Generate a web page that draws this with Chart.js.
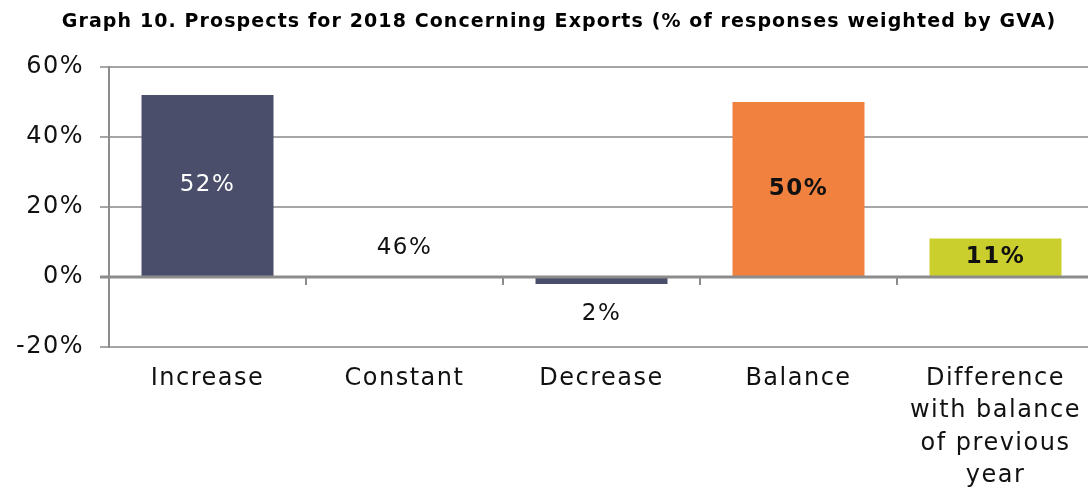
<!DOCTYPE html>
<html>
<head>
<meta charset="utf-8">
<script src="https://cdn.jsdelivr.net/npm/chart.js@4.4.1/dist/chart.umd.min.js"></script>
<style>
  html, body { margin: 0; padding: 0; background: #ffffff; overflow: hidden; }
  #wrap { position: relative; width: 1094px; height: 488px; }
</style>
</head>
<body>
<div id="wrap"><canvas id="exportsChart" width="1094" height="488"></canvas></div>
<script>
// ================= DATA =================
const categories = [
    "Increase",
    "Constant",
    "Decrease",
    "Balance",
    ["Difference", "with balance", "of previous", "year"]
];
const values = [52, 46, -2, 50, 11];
const barColors = ["#4a4e6a", "rgba(0,0,0,0)", "#4a4e6a", "#f0813e", "#cbcf2d"];
const yTicks = [-20, 0, 20, 40, 60];
const titleText = "Graph 10. Prospects for 2018 Concerning Exports (% of responses weighted by GVA)";

const FONT = "'DejaVu Sans', sans-serif";
const TEXT = "#111111";
const SPACING = "1.5px";

// wide-ish lettering like the report's typeface
const spacing = {
    id: "spacing",
    beforeLayout(chart) { chart.ctx.letterSpacing = SPACING; },
    beforeDraw(chart) { chart.ctx.letterSpacing = SPACING; }
};

// title drawn by hand so the plot area can start exactly where it should
const titleDraw = {
    id: "titleDraw",
    afterDraw(chart) {
        const ctx = chart.ctx;
        ctx.save();
        ctx.letterSpacing = "1.1px";
        ctx.fillStyle = "#000000";
        ctx.font = "bold 19px " + FONT;
        ctx.textAlign = "center";
        ctx.textBaseline = "middle";
        ctx.fillText(titleText, 559, 22);
        ctx.restore();
    }
};

// value labels, placed the way the original report does it
const valueLabels = {
    id: "valueLabels",
    afterDatasetsDraw(chart) {
        const ctx = chart.ctx;
        const meta = chart.getDatasetMeta(0);
        const zero = chart.scales.y.getPixelForValue(0);
        ctx.save();
        ctx.letterSpacing = SPACING;
        ctx.textAlign = "center";
        ctx.textBaseline = "middle";
        meta.data.forEach((bar, i) => {
            const txt = Math.abs(values[i]) + "%";
            let ty = (bar.y + bar.base) / 2;
            let color = TEXT;
            let weight = "normal";
            if (i === 0) color = "#ffffff";
            if (i === 1) ty = zero - 29;
            if (i === 2) ty = bar.y + 30;
            if (i >= 3) weight = "bold";
            ctx.fillStyle = color;
            ctx.font = weight + " 23px " + FONT;
            ctx.fillText(txt, bar.x, ty);
        });
        ctx.restore();
    }
};

// zero line with small category ticks hanging below it
const zeroAxis = {
    id: "zeroAxis",
    afterDatasetsDraw(chart) {
        const ctx = chart.ctx;
        const x = chart.scales.x;
        const zero = chart.scales.y.getPixelForValue(0);
        const step = x.getPixelForValue(1) - x.getPixelForValue(0);
        ctx.save();
        ctx.strokeStyle = "#8c8c8c";
        ctx.lineWidth = 3;
        ctx.beginPath();
        ctx.moveTo(chart.chartArea.left - 9, zero);
        ctx.lineTo(chart.chartArea.right, zero);
        ctx.stroke();
        ctx.lineWidth = 2;
        for (let i = 1; i < categories.length; i++) {
            const bx = Math.round(x.getPixelForValue(i) - step / 2);
            ctx.beginPath();
            ctx.moveTo(bx, zero);
            ctx.lineTo(bx, zero + 8);
            ctx.stroke();
        }
        ctx.restore();
    }
};

new Chart(document.getElementById("exportsChart"), {
    type: "bar",

    data: {
        labels: categories,

        datasets: [{
            data: values,
            backgroundColor: barColors,
            borderWidth: 0,
            barPercentage: 0.67,
            categoryPercentage: 1
        }]
    },

    options: {
        responsive: false,
        animation: false,

        layout: {
            padding: { left: 0, right: 0, top: 67, bottom: 0 }
        },

        plugins: {
            legend: { display: false },
            tooltip: { enabled: false },
            title: { display: false }
        },

        scales: {
            x: {
                grid: { display: false },
                border: { display: false },
                ticks: {
                    color: TEXT,
                    font: { family: FONT, size: 24, lineHeight: 1.34 },
                    padding: 8,
                    maxRotation: 0,
                    autoSkip: false
                },
                afterFit(scale) { scale.height = 141; }
            },

            y: {
                min: -20,
                max: 60,
                afterBuildTicks(scale) {
                    scale.ticks = yTicks.map(v => ({ value: v }));
                },
                grid: {
                    color: "#a6a6a6",
                    lineWidth: 2,
                    tickLength: 9
                },
                border: { display: true, color: "#8c8c8c", width: 2 },
                ticks: {
                    color: TEXT,
                    font: { family: FONT, size: 24 },
                    padding: 16,
                    callback: v => v + "%"
                },
                afterFit(scale) { scale.width = 109; }
            }
        }
    },

    plugins: [spacing, valueLabels, zeroAxis, titleDraw]
});
</script>
</body>
</html>
